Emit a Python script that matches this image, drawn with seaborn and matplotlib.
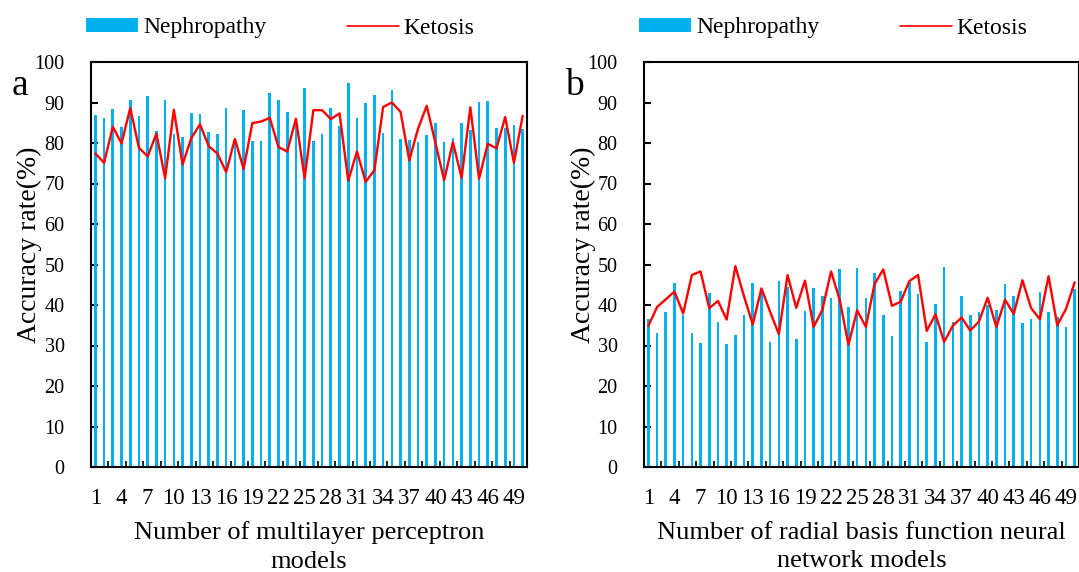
import numpy as np
import pandas as pd
import matplotlib
matplotlib.use("Agg")
import matplotlib.pyplot as plt
import seaborn as sns
from matplotlib.patches import Patch
from matplotlib.lines import Line2D

models = list(range(1, 51))
tick_labels = [str(v) for v in range(1, 50, 3)]

mlp_nephropathy = [87.0, 86.2, 88.4, 83.9, 90.6, 86.7, 91.7, 83.0, 90.7, 82.3,
                   81.5, 87.4, 87.2, 82.6, 82.2, 88.7, 80.5, 88.1, 80.4, 80.4,
                   92.4, 90.5, 87.6, 84.5, 93.7, 80.4, 82.1, 88.7, 84.2, 94.7,
                   86.1, 90.0, 91.8, 82.5, 93.1, 81.1, 80.7, 80.2, 81.9, 85.0,
                   80.2, 81.3, 84.9, 83.3, 90.1, 90.4, 83.6, 83.6, 84.5, 83.5]
mlp_ketosis = [77.4, 75.1, 84.0, 79.9, 88.6, 78.8, 76.7, 82.3, 71.3, 88.2,
               74.7, 81.2, 84.6, 79.2, 77.4, 72.8, 81.0, 73.6, 84.9, 85.3,
               86.2, 79.0, 77.9, 86.0, 71.3, 88.1, 88.1, 85.9, 87.3, 70.7,
               77.9, 70.4, 73.3, 88.9, 90.0, 87.7, 75.7, 83.5, 89.2, 80.0,
               70.8, 80.2, 71.4, 88.8, 71.2, 79.8, 78.7, 86.4, 75.1, 86.7]

rbf_nephropathy = [36.5, 33.1, 38.3, 45.4, 37.5, 33.0, 30.7, 43.0, 35.9, 30.4,
                   32.6, 37.6, 45.5, 43.3, 30.9, 46.0, 44.5, 31.6, 38.6, 44.3,
                   42.3, 41.7, 48.8, 39.4, 49.2, 41.7, 47.9, 37.5, 32.4, 43.5,
                   45.8, 42.6, 30.9, 40.3, 49.3, 35.9, 42.3, 37.5, 38.3, 40.0,
                   38.8, 45.2, 42.3, 35.6, 36.5, 43.2, 38.3, 37.0, 34.6, 44.0]
rbf_ketosis = [34.8, 39.5, 41.4, 43.3, 37.9, 47.4, 48.3, 39.2, 41.0, 36.4,
               49.6, 42.1, 35.2, 44.1, 38.3, 32.8, 47.4, 39.3, 46.0, 34.6,
               38.8, 48.3, 41.2, 30.2, 38.7, 34.6, 45.2, 48.8, 39.8, 40.8,
               45.9, 47.4, 33.6, 37.7, 30.9, 34.9, 36.9, 33.7, 35.9, 41.8,
               34.6, 41.3, 37.8, 46.1, 39.2, 36.5, 47.1, 35.0, 39.0, 45.6]

BLUE = "#00B0F0"
RED = "#FF0000"

sns.set_style("white")
plt.rcParams["font.family"] = ["Liberation Serif", "DejaVu Serif"]
plt.rcParams["text.color"] = "black"
plt.rcParams["axes.labelcolor"] = "black"
plt.rcParams["xtick.color"] = "black"
plt.rcParams["ytick.color"] = "black"

W, H = 1079, 572
fig = plt.figure(figsize=(W / 100, H / 100), dpi=100)


def fx(px):
    return px / W


def fy(py):
    return 1 - py / H


panels = [
    dict(left=91, right=527, bars=mlp_nephropathy, line=mlp_ketosis, letter="a",
         letter_x=12, ylab_x=29, leg_x=86,
         xlabel="Number of multilayer perceptron\nmodels"),
    dict(left=644, right=1079, bars=rbf_nephropathy, line=rbf_ketosis, letter="b",
         letter_x=565, ylab_x=583, leg_x=639,
         xlabel="Number of radial basis function neural\nnetwork models"),
]

top, bottom = 62, 467
for p in panels:
    ax = fig.add_axes([fx(p["left"]), fy(bottom), fx(p["right"] - p["left"]),
                       (bottom - top) / H])
    df = pd.DataFrame({"model": models, "nephropathy": p["bars"],
                       "ketosis": p["line"], "pos": np.arange(len(models))})
    sns.barplot(data=df, x="model", y="nephropathy", ax=ax, color=BLUE,
                saturation=1, width=0.3, linewidth=0, errorbar=None)
    sns.lineplot(data=df, x="pos", y="ketosis", ax=ax, color=RED, linewidth=1.7)
    ax.set_xlim(-0.5, len(models) - 0.5)
    ax.set_ylim(0, 100)
    ax.set_yticks(np.arange(0, 101, 10))
    ax.set_xticks(np.arange(0, 50, 3))
    ax.set_xticklabels(tick_labels)
    ax.set_xticks(np.arange(1.5, 49, 2), minor=True)
    ax.tick_params(axis="y", direction="in", length=5, width=1.5, pad=19,
                   labelsize=14.5, left=True)
    ax.tick_params(axis="x", which="major", length=0, pad=15, labelsize=16.5)
    ax.tick_params(axis="x", which="minor", direction="in", length=4, width=1.2,
                   bottom=True)
    for s in ax.spines.values():
        s.set_visible(True)
        s.set_color("black")
        s.set_linewidth(1.5)
    ax.set_xlabel("")
    ax.set_ylabel("")
    ax.grid(False)

    fig.text(fx(p["ylab_x"]), fy(245), "Accuracy rate(%)", rotation=90,
             ha="center", va="center", fontsize=20)
    fig.text(fx((p["left"] + p["right"]) / 2), fy(547), p["xlabel"],
             ha="center", va="center", fontsize=19, linespacing=1.4,
             multialignment="center")
    fig.text(fx(p["letter_x"]), fy(95), p["letter"], ha="left",
             va="baseline", fontsize=27)

    handles = [Patch(facecolor=BLUE, edgecolor="none", label="Nephropathy"),
               Line2D([0], [0], color=RED, linewidth=1.2, label="Ketosis")]
    ax.legend(handles=handles, loc="center left",
              bbox_to_anchor=(fx(p["leg_x"]), fy(28)),
              bbox_transform=fig.transFigure, ncol=2, frameon=False,
              fontsize=17, handlelength=2.2, handleheight=0.5,
              handletextpad=0.22, columnspacing=3.4, borderpad=0,
              borderaxespad=0)

fig.savefig("out.png", dpi=100)
